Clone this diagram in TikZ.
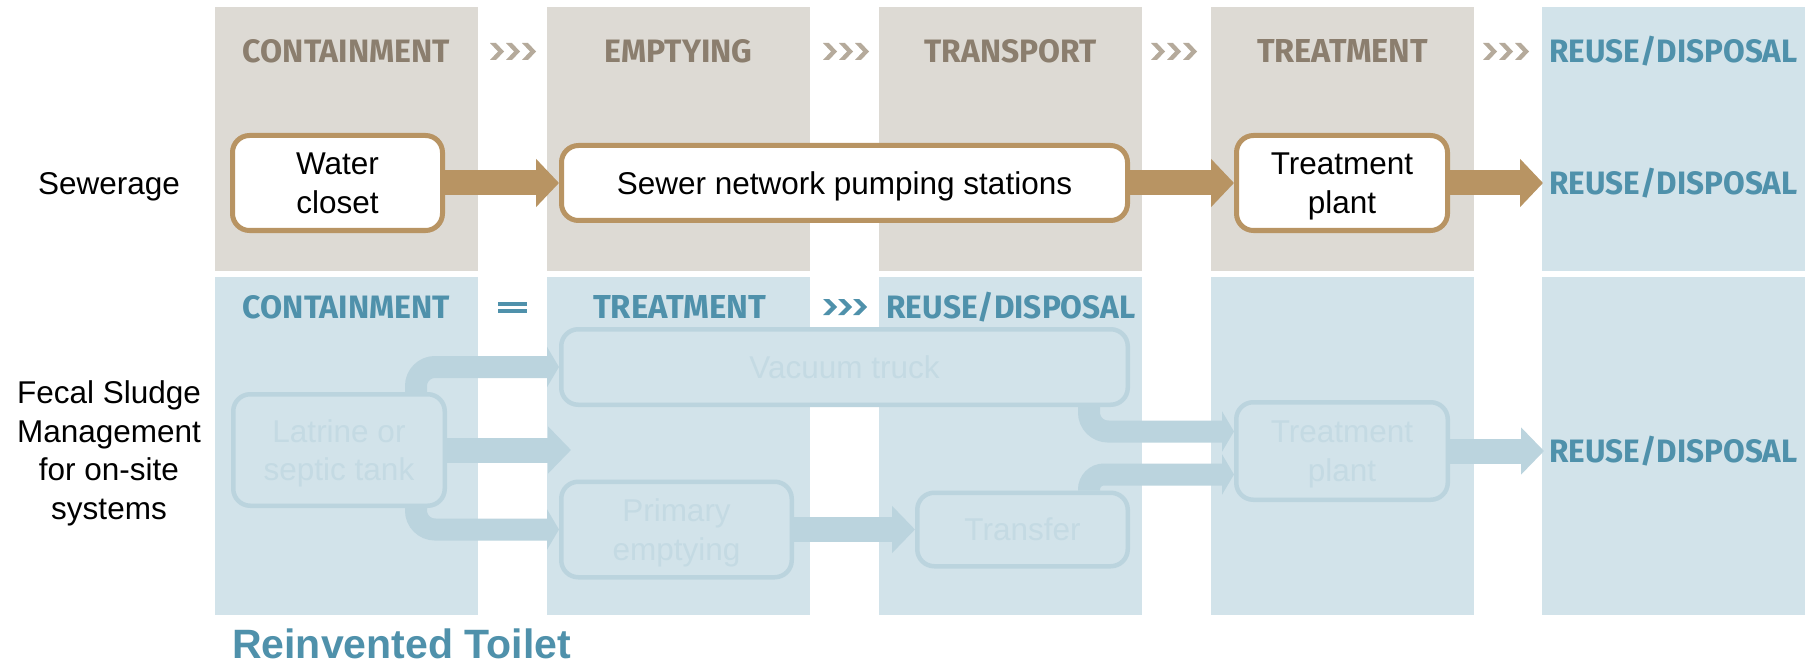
\documentclass[tikz,border=0pt]{standalone}
\usepackage{graphicx}
\usepackage{fontspec}
\setmainfont{Liberation Sans}
\newfontfamily\dinfont{Fira Sans}
\usetikzlibrary{arrows.meta}
\definecolor{colgray}{HTML}{DDDAD4}
\definecolor{colblue}{HTML}{D2E3EA}
\definecolor{titlegray}{HTML}{8B7E6E}
\definecolor{chevgray}{HTML}{B5AA9B}
\definecolor{titleblue}{HTML}{4F91AB}
\definecolor{sbrown}{HTML}{B89463}
\definecolor{fadeline}{HTML}{BBD4DE}
\definecolor{fadetext}{HTML}{C4DAE3}
\newcommand\stagett[2]{\resizebox{#1pt}{23pt}{\dinfont\bfseries #2}}
\begin{document}
\begin{tikzpicture}[x=1pt,y=-1pt,
  bodyfont/.style={font=\fontsize{31.5}{38.5}\selectfont},
  sewbox/.style={draw=sbrown, line width=5pt, fill=white, rounded corners=17pt,
    bodyfont, align=center, inner sep=0pt, text depth=0pt},
  fadebox/.style={draw=fadeline, line width=4.5pt, fill=colblue, rounded corners=17pt,
    bodyfont, text=fadetext, align=center, inner sep=0pt, text depth=0pt},
  stagegray/.style={inner sep=0pt, anchor=base, text=titlegray},
  stageblue/.style={inner sep=0pt, anchor=base, text=titleblue},
  sewarrow/.style={draw=sbrown, line width=25pt, -{Triangle[length=23pt,width=47pt]}},
  fadearrow/.style={draw=fadeline, line width=25pt, -{Triangle[length=23pt,width=46pt]}},
  fadebend/.style={draw=fadeline, line width=22pt, rounded corners=19pt, -{Triangle[length=12pt,width=40pt]}},
  rowlabel/.style={bodyfont, align=center, inner sep=0pt, text=black}
]
\useasboundingbox (0,0) rectangle (1812,663);
\fill[white] (0,0) rectangle (1812,663);

% columns, row 1
\fill[colgray] (215,7) rectangle (478,271);
\fill[colgray] (547,7) rectangle (810,271);
\fill[colgray] (879,7) rectangle (1142,271);
\fill[colgray] (1211,7) rectangle (1474,271);
\fill[colblue] (1542,7) rectangle (1805,271);
% columns, row 2
\fill[colblue] (215,277) rectangle (478,615);
\fill[colblue] (547,277) rectangle (810,615);
\fill[colblue] (879,277) rectangle (1142,615);
\fill[colblue] (1211,277) rectangle (1474,615);
\fill[colblue] (1542,277) rectangle (1805,615);

% stage titles row 1
\node[stagegray] (s1) at (346.5,63) {\stagett{207}{CONTAINMENT}};
\node[stagegray] (s2) at (678.5,63) {\stagett{148}{EMPTYING}};
\node[stagegray] (s3) at (1010.5,63) {\stagett{172}{TRANSPORT}};
\node[stagegray] (s4) at (1342.5,63) {\stagett{171}{TREATMENT}};
\node[stageblue] (s5) at (1673.5,63) {\stagett{248}{REUSE\smash{/}DISPOSAL}};
% chevrons row 1
\foreach \cx in {490,823,1151,1483}{
  \foreach \k in {0,16,32}{
    \fill[chevgray] (\cx+\k,43) -- (\cx+\k+6,43) -- (\cx+\k+14,51.5) -- (\cx+\k+6,60) -- (\cx+\k,60) -- (\cx+\k+8,51.5) -- cycle;
  }
}
% stage titles row 2
\node[stageblue] (r1) at (346.5,318) {\stagett{207}{CONTAINMENT}};
\node[stageblue] (r2) at (679.5,318) {\stagett{173}{TREATMENT}};
\node[stageblue] (r3) at (1011,318) {\stagett{249}{REUSE\smash{/}DISPOSAL}};
\fill[titleblue] (498,302) rectangle (527,306);
\fill[titleblue] (498,309) rectangle (527,313);
\foreach \k in {0,15,30}{
  \fill[titleblue] (823+\k,299) -- (823+\k+6,299) -- (823+\k+14,307) -- (823+\k+6,315) -- (823+\k,315) -- (823+\k+8,307) -- cycle;
}

% row labels
\node[rowlabel, anchor=base] (lsew) at (109,195) {Sewerage};
\node[rowlabel, text depth=0pt] (lfsm) at (109,450) {Fecal Sludge\\Management\\for on-site\\systems};

% row 1 boxes
\node[sewbox, minimum width=210pt, minimum height=95pt] (wc) at (337.5,183) {Water\\closet};
\node[sewbox, minimum width=566pt, minimum height=75pt] (sn) at (844.5,183) {Sewer network pumping stations};
\node[sewbox, minimum width=211pt, minimum height=95pt] (tpa) at (1342,183) {Treatment\\plant};
\node[stageblue] (rd1) at (1673.5,195) {\stagett{248}{REUSE\smash{/}DISPOSAL}};
\coordinate (e1) at (1543,183);
\draw[sewarrow] (wc.east) -- (sn.west);
\draw[sewarrow] (sn.east) -- (tpa.west);
\draw[sewarrow] (tpa.east) -- (e1);

% row 2 boxes
\node[fadebox, minimum width=211.5pt, minimum height=111.5pt] (lat) at (339,450) {Latrine or\\septic tank};
\node[fadebox, minimum width=566.5pt, minimum height=75.5pt] (vt) at (844.5,367) {Vacuum truck};
\node[fadebox, minimum width=230.5pt, minimum height=95.5pt] (pe) at (676.5,529.5) {Primary\\emptying};
\node[fadebox, minimum width=210.5pt, minimum height=73.5pt] (tf) at (1022.5,529.5) {Transfer};
\node[fadebox, minimum width=211.5pt, minimum height=97.5pt] (tpb) at (1342,451) {Treatment\\plant};
\node[stageblue] (rd2) at (1673.5,462) {\stagett{248}{REUSE\smash{/}DISPOSAL}};
\coordinate (e2) at (571,450);
\coordinate (e3) at (1544,451);

% row 2 connectors
\draw[fadearrow] (lat.east) -- (e2);
\draw[fadebend] ([xshift=-31pt]lat.north east) |- (vt.west);
\draw[fadebend] ([xshift=-31pt]lat.south east) |- (pe.west);
\draw[fadearrow] (pe.east) -- (tf.west);
\draw[fadebend] ([xshift=-41pt]vt.south east) |- ([yshift=19.5pt]tpb.west);
\draw[fadebend, rounded corners=15pt] ([xshift=-41pt]tf.north east) |- ([yshift=-23.5pt]tpb.west);
\draw[fadearrow] (tpb.east) -- (e3);

% title
\node[anchor=base west, inner sep=0pt, text=titleblue, font=\bfseries\fontsize{41}{48}\selectfont] (rt) at (232,658) {Reinvented Toilet};
\end{tikzpicture}
\end{document}
